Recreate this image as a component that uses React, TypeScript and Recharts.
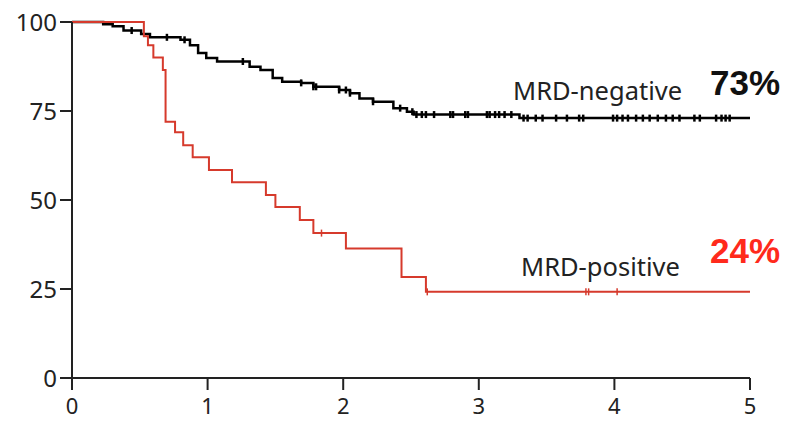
import React from "react";
import { ComposedChart, Line, Scatter, XAxis, YAxis } from "recharts";

interface Point {
  t: number;
  s: number;
}

// Kaplan-Meier steps (years, % surviving)
const mrdNegative: Point[] = [
  { t: 0, s: 100 }, { t: 0.23, s: 99.4 }, { t: 0.3, s: 98.8 }, { t: 0.38, s: 97.6 },
  { t: 0.51, s: 96.6 }, { t: 0.575, s: 95.7 }, { t: 0.8, s: 95 }, { t: 0.87, s: 93.5 },
  { t: 0.93, s: 91.3 }, { t: 0.99, s: 89.9 }, { t: 1.07, s: 88.9 }, { t: 1.31, s: 87.4 },
  { t: 1.39, s: 86.5 }, { t: 1.48, s: 84.3 }, { t: 1.55, s: 83.2 }, { t: 1.69, s: 82.9 },
  { t: 1.78, s: 81.8 }, { t: 1.97, s: 80.9 }, { t: 2.05, s: 80 }, { t: 2.12, s: 78.5 },
  { t: 2.22, s: 77.6 }, { t: 2.37, s: 75.8 }, { t: 2.47, s: 74.8 }, { t: 2.52, s: 74 },
  { t: 3.3, s: 73 }, { t: 5, s: 73 },
];

const mrdPositive: Point[] = [
  { t: 0, s: 100 }, { t: 0.53, s: 96 }, { t: 0.56, s: 93.5 }, { t: 0.6, s: 90 },
  { t: 0.67, s: 86.5 }, { t: 0.69, s: 72 }, { t: 0.76, s: 69 }, { t: 0.82, s: 65.4 },
  { t: 0.89, s: 62 }, { t: 1.01, s: 58.4 }, { t: 1.18, s: 55 }, { t: 1.43, s: 51.4 },
  { t: 1.5, s: 48 }, { t: 1.68, s: 44.4 }, { t: 1.78, s: 40.7 }, { t: 2.02, s: 36.4 },
  { t: 2.43, s: 28.4 }, { t: 2.61, s: 24.2 }, { t: 5, s: 24.2 },
];

// censored observations (tick marks)
const negCensored = [
  0.44, 0.7, 0.83, 1.26, 1.69, 1.78, 1.8, 1.97, 2.02, 2.05, 2.22, 2.42, 2.51,
  2.54, 2.58, 2.61, 2.67, 2.79, 2.81, 2.9, 2.92, 3.06, 3.08, 3.12, 3.15, 3.19,
  3.24, 3.33, 3.36, 3.42, 3.47, 3.57, 3.65, 3.74, 3.77, 3.99, 4.02, 4.06, 4.1,
  4.16, 4.21, 4.26, 4.32, 4.38, 4.43, 4.48, 4.59, 4.63, 4.75, 4.79, 4.82, 4.85,
];
const posCensored = [1.84, 2.62, 3.79, 3.81, 4.02];

const xTicks = [0, 1, 2, 3, 4, 5];
const yTicks = [0, 25, 50, 75, 100];

const survivalAt = (curve: Point[], t: number) => {
  let s = curve[0].s;
  for (const p of curve) if (p.t <= t) s = p.s;
  return s;
};

const negMarks = negCensored.map((t) => ({ t, s: survivalAt(mrdNegative, t) }));
const posMarks = posCensored.map((t) => ({ t, s: survivalAt(mrdPositive, t) }));

const RED = "#d63a2c";

const tickMark = (color: string, w: number) => (props: any) => (
  <line x1={props.cx} x2={props.cx} y1={props.cy - 3.5} y2={props.cy + 3.5} stroke={color} strokeWidth={w} />
);

const yTickStyle = { fontFamily: "Noto Sans", fontSize: 24, fill: "#222" };
const xTickStyle = { fontFamily: "Noto Sans", fontSize: 22, fill: "#222" };

const App: React.FC = () => {
  return (
    <div style={{ position: "absolute", left: 0, top: 0, width: 787, height: 422, background: "#fff" }}>
      <ComposedChart width={787} height={422} margin={{ top: 22, right: 37, bottom: 0, left: 0 }}>
        <XAxis
          type="number"
          dataKey="t"
          domain={[0, 5]}
          ticks={xTicks}
          height={44}
          tickSize={12}
          tickMargin={8}
          stroke="#222"
          strokeWidth={2}
          tick={xTickStyle}
          allowDuplicatedCategory={false}
        />
        <YAxis
          type="number"
          domain={[0, 100]}
          ticks={yTicks}
          width={72}
          tickSize={12}
          tickMargin={3}
          stroke="#222"
          strokeWidth={2}
          tick={yTickStyle}
        />
        <Line
          data={mrdNegative}
          dataKey="s"
          type="stepAfter"
          stroke="#000"
          strokeWidth={2.5}
          dot={false}
          isAnimationActive={false}
        />
        <Scatter data={negMarks} dataKey="s" shape={tickMark("#000", 2.5)} isAnimationActive={false} />
        <Line
          data={mrdPositive}
          dataKey="s"
          type="stepAfter"
          stroke={RED}
          strokeWidth={2}
          dot={false}
          isAnimationActive={false}
        />
        <Scatter data={posMarks} dataKey="s" shape={tickMark(RED, 1.5)} isAnimationActive={false} />
      </ComposedChart>
      <div style={{ position: "absolute", left: 513, top: 73, fontFamily: "Noto Sans", fontSize: 25.5, lineHeight: "normal", color: "#222", whiteSpace: "nowrap" }}>
        MRD-negative
      </div>
      <div style={{ position: "absolute", left: 710, top: 63, fontFamily: "Liberation Sans", fontWeight: "bold", fontSize: 35, lineHeight: "normal", color: "#111", whiteSpace: "nowrap" }}>
        73%
      </div>
      <div style={{ position: "absolute", left: 521, top: 249, fontFamily: "Noto Sans", fontSize: 25.5, lineHeight: "normal", color: "#222", whiteSpace: "nowrap" }}>
        MRD-positive
      </div>
      <div style={{ position: "absolute", left: 710, top: 231, fontFamily: "Liberation Sans", fontWeight: "bold", fontSize: 35, lineHeight: "normal", color: "#ff2a1c", whiteSpace: "nowrap" }}>
        24%
      </div>
    </div>
  );
};

export default App;
